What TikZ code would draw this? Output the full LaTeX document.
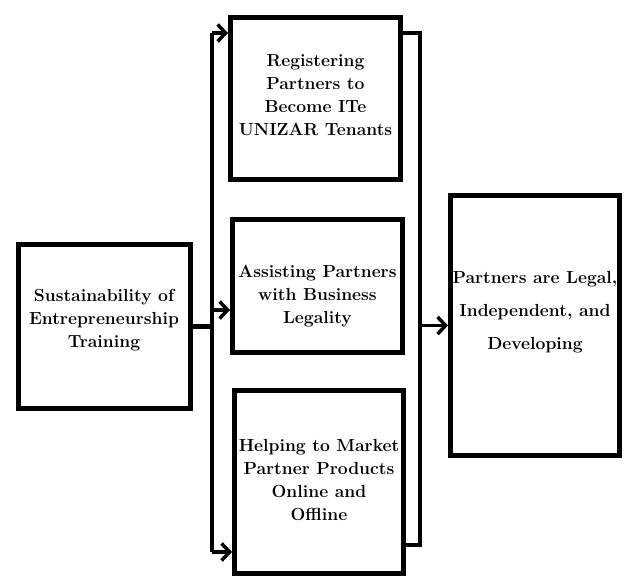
\documentclass[tikz,border=0pt]{standalone}
\usetikzlibrary{arrows.meta}
\begin{document}
\begin{tikzpicture}[x=1pt,y=-1pt,
	box/.style={draw,line width=5pt,inner sep=0pt},
	txt/.style={align=center,inner sep=2pt,font=\bfseries\fontsize{17.5}{23}\selectfont},
	link/.style={line width=3.5pt},
	arrow/.style={line width=3.5pt,-{Straight Barb[length=8pt,width=17pt]}}]
	\useasboundingbox (0,0) rectangle (625,577);

	% boxes
	\node[box,minimum width=172,minimum height=164] (train) at (104,327) {};
	\node[box,minimum width=170,minimum height=162] (reg) at (315.5,98.5) {};
	\node[box,minimum width=170,minimum height=133] (assist) at (317.5,286) {};
	\node[box,minimum width=169,minimum height=183] (market) at (319,482) {};
	\node[box,minimum width=169,minimum height=260] (result) at (535,325.5) {};

	% texts
	\node[txt] (traintext) at ([yshift=7pt]train.center) {Sustainability of\\Entrepreneurship\\Training};
	\node[txt] (regtext) at ([yshift=3pt]reg.center) {Registering\\Partners to\\Become ITe\\UNIZAR Tenants};
	\node[txt] (assisttext) at ([yshift=-10pt]assist.center) {Assisting Partners\\with Business\\Legality};
	\node[txt] (markettext) at ([yshift=2pt]market.center) {Helping to Market\\Partner Products\\Online and\\Offline};
	\node[txt] (resulttext) at ([yshift=13pt]result.center) {Partners are Legal,\\[10pt]Independent, and\\[10pt]Developing};

	\coordinate (lt) at (212,33);
	\coordinate (lm) at (212,310);
	\coordinate (lb) at (212,552);
	\coordinate (rt) at (420,33);
	\coordinate (rb) at (420,545);

	\draw[line width=5pt] (train.east) -- (train.east -| lt);
	\draw[link] (lt) -- (lb);
	\draw[arrow] (lt) -- (lt -| reg.west);
	\draw[arrow] (lm) -- (lm -| assist.west);
	\draw[arrow] (lb) -- (lb -| market.west);

	\draw[link] (rt -| reg.east) -- (rt) -- (rb) -- (rb -| market.east);
	\draw[arrow] (result.west -| rt) -- (result.west);
\end{tikzpicture}
\end{document}
